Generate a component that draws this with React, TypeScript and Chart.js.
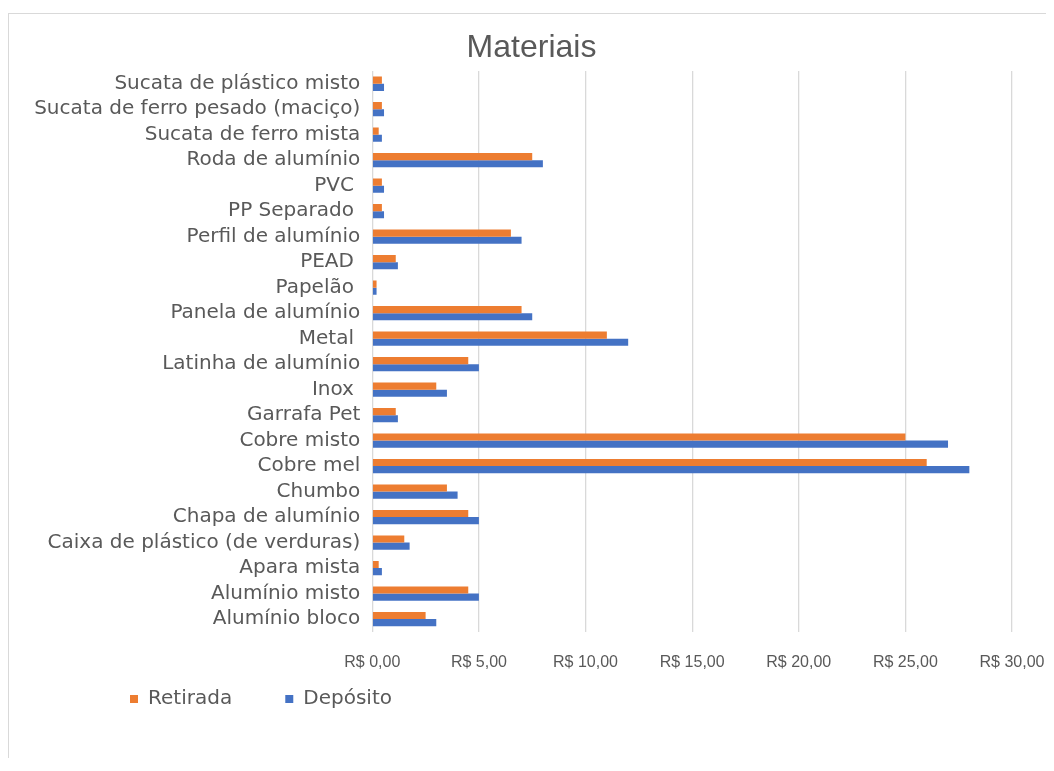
import React, { useEffect, useRef } from "react";
import { Chart, registerables } from "chart.js";

Chart.register(...registerables);

// Categories listed bottom -> top (as in the reference)
const categories = [
  "Alumínio bloco",
  "Alumínio misto",
  "Apara mista",
  "Caixa de plástico (de verduras)",
  "Chapa de alumínio",
  "Chumbo",
  "Cobre mel",
  "Cobre misto",
  "Garrafa Pet",
  "Inox ",
  "Latinha de alumínio",
  "Metal ",
  "Panela de alumínio",
  "Papelão ",
  "PEAD ",
  "Perfil de alumínio",
  "PP Separado ",
  "PVC ",
  "Roda de alumínio",
  "Sucata de ferro mista",
  "Sucata de ferro pesado (maciço)",
  "Sucata de plástico misto",
];

const retirada = [2.5, 4.5, 0.3, 1.5, 4.5, 3.5, 26, 25, 1.1, 3.0, 4.5, 11, 7.0, 0.2, 1.1, 6.5, 0.45, 0.45, 7.5, 0.3, 0.45, 0.45];
const deposito = [3.0, 5.0, 0.45, 1.75, 5.0, 4.0, 28, 27, 1.2, 3.5, 5.0, 12, 7.5, 0.2, 1.2, 7.0, 0.55, 0.55, 8.0, 0.45, 0.55, 0.55];

const seriesNames = ["Retirada", "Depósito"];
const seriesColors = ["#ED7D31", "#4472C4"];

const xMin = 0;
const xMax = 30;
const xStep = 5;

const formatReal = (v: number) => "R$ " + v.toFixed(2).replace(".", ",");

const TEXT = "#595959";
const GRID = "#d9d9d9";

const boxShift = {
  id: "boxShift",
  afterLayout(chart: any) {
    const lg = chart.legend;
    if (lg) {
      lg.left += 106;
      lg.right += 106;
    }
    const tb = chart.titleBlock;
    if (tb) {
      tb.left += 21;
      tb.right += 21;
    }
  },
};

export default function App() {
  const ref = useRef<HTMLCanvasElement | null>(null);

  useEffect(() => {
    if (!ref.current) return;
    const chart = new Chart(ref.current, {
      type: "bar",
      data: {
        labels: categories,
        datasets: [
          {
            label: seriesNames[0] + "      ",
            data: retirada,
            backgroundColor: seriesColors[0],
            borderWidth: 0,
            categoryPercentage: 0.56,
            barPercentage: 1,
          },
          {
            label: seriesNames[1],
            data: deposito,
            backgroundColor: seriesColors[1],
            borderWidth: 0,
            categoryPercentage: 0.56,
            barPercentage: 1,
          },
        ],
      },
      plugins: [boxShift],
      options: {
        indexAxis: "y",
        animation: false,
        responsive: true,
        maintainAspectRatio: false,
        layout: { padding: { left: 0, right: 42, top: 0, bottom: 44 } },
        plugins: {
          title: {
            display: true,
            text: "Materiais",
            color: TEXT,
            font: { family: "Liberation Sans, Arial, sans-serif", size: 32, weight: "normal" },
            padding: { top: 15, bottom: 3.6 },
          },
          legend: {
            display: true,
            position: "bottom",
            align: "start",
            labels: {
              color: TEXT,
              font: { family: "DejaVu Sans, sans-serif", size: 20 },
              boxWidth: 8,
              boxHeight: 8,
              padding: 15,
            },
          },
          tooltip: { enabled: false },
        },
        scales: {
          x: {
            type: "linear",
            min: xMin,
            max: xMax,
            grid: {
              color: GRID,
              lineWidth: 1.3,
              drawTicks: true,
              tickLength: 19,
              tickColor: "rgba(0,0,0,0)",
            },
            border: { display: false },
            ticks: {
              stepSize: xStep,
              color: TEXT,
              padding: 2,
              font: { family: "Liberation Sans, Arial, sans-serif", size: 16 },
              callback: (v: any) => formatReal(Number(v)),
            },
          },
          y: {
            type: "category",
            reverse: true,
            grid: { display: false, drawTicks: false },
            border: { display: false },
            ticks: {
              autoSkip: false,
              color: TEXT,
              padding: 12,
              font: { family: "DejaVu Sans, sans-serif", size: 20 },
            },
            afterFit: (scale: any) => {
              scale.width = 363.3;
            },
          },
        },
      },
    } as any);
    return () => chart.destroy();
  }, []);

  return (
    <div
      style={{
        position: "relative",
        top: 5,
        width: 1046,
        height: 750,
        boxSizing: "border-box",
        borderTop: "1px solid #d9d9d9",
        borderLeft: "1px solid #d9d9d9",
        background: "#fff",
      }}
    >
      <div style={{ position: "relative", width: 1045, height: 749 }}>
        <canvas ref={ref} />
      </div>
    </div>
  );
}
